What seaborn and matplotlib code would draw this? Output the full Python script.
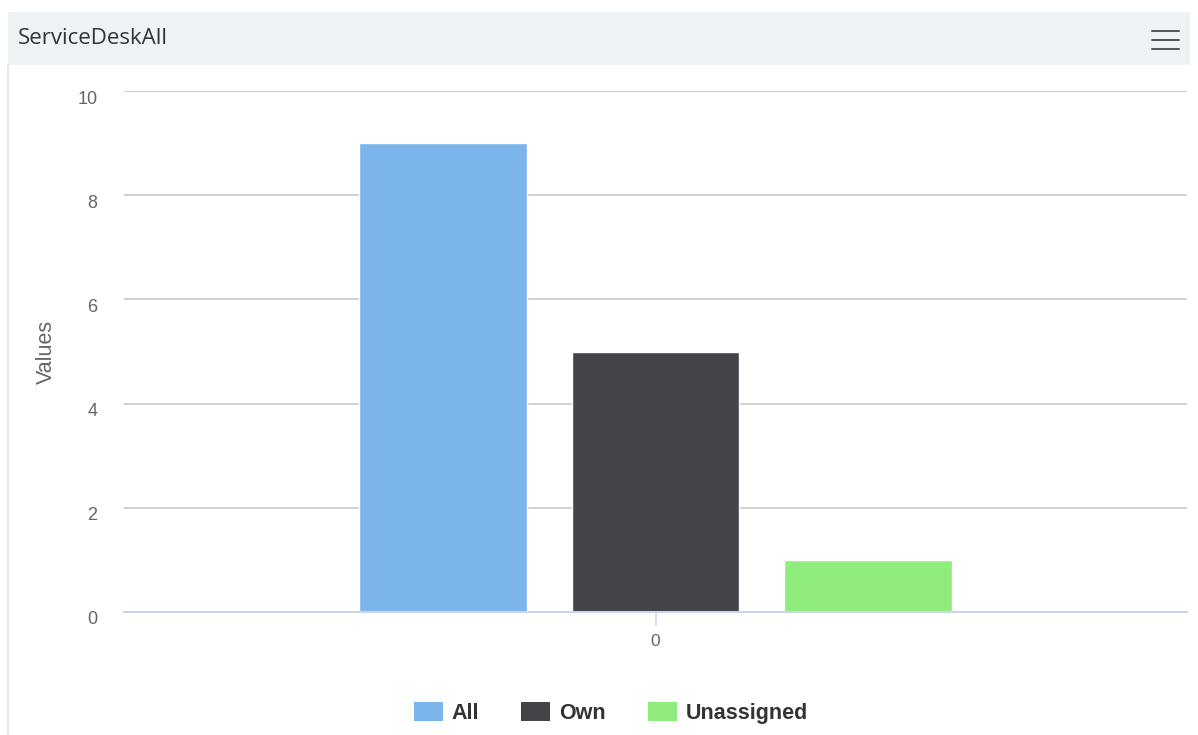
import matplotlib
matplotlib.use("Agg")
import matplotlib.pyplot as plt
from matplotlib.patches import Rectangle, Patch
from matplotlib.lines import Line2D
from matplotlib.transforms import ScaledTranslation
import seaborn as sns
import pandas as pd

# Data
categories = ["0", "0", "0"]
series = ["All", "Own", "Unassigned"]
values = [9, 5, 1]
colors = ["#7cb5ec", "#434348", "#90ed7d"]
y_ticks = [0, 2, 4, 6, 8, 10]
title = "ServiceDeskAll"
y_label = "Values"

df = pd.DataFrame({"category": categories, "series": series, "value": values})

sns.set_theme(style="white")
plt.rcParams["font.family"] = ["Liberation Sans", "DejaVu Sans"]

fig = plt.figure(figsize=(11.98, 7.35), dpi=100)
fig.patch.set_facecolor("white")

# header band with title and menu icon
fig.patches.append(Rectangle((8 / 1198, 1 - 65 / 735), 1182 / 1198, 53 / 735,
                             transform=fig.transFigure, facecolor="#eef3f8",
                             edgecolor="none", zorder=0))
fig.lines.append(Line2D([8 / 1198, 8 / 1198], [0, 1 - 65 / 735],
                        transform=fig.transFigure, color="#e8e8e8", lw=1.5))
fig.text(18 / 1198, 1 - 39 / 735, title, fontsize=16, color="#333333",
         family=["Open Sans", "DejaVu Sans"], va="center", ha="left")
for yy in (31, 40, 49):
    fig.lines.append(Line2D([1152 / 1198, 1179 / 1198], [1 - yy / 735] * 2,
                            transform=fig.transFigure, color="#555555", lw=1.4))

ax = fig.add_axes([124 / 1198, 1 - 612 / 735, 1063 / 1198, 521 / 735])
sns.barplot(data=df, x="category", y="value", hue="series",
            palette=colors, saturation=1, width=0.6, gap=0.21, ax=ax,
            edgecolor="white", linewidth=1, legend=False, zorder=3)

ax.set_xlim(-0.5, 0.5)
ax.set_ylim(0, 10)
ax.set_yticks(y_ticks)
ax.set_yticklabels([str(t) for t in y_ticks], fontsize=13, color="#666666")
ax.tick_params(axis="y", left=False, length=0, pad=19)
ax.tick_params(axis="x", bottom=True, length=10, width=1.2, color="#ccd6eb",
               labelsize=12.5, labelcolor="#666666", pad=6)
# tick labels sit a little below their grid lines
shift = ScaledTranslation(0, -6 / 100, fig.dpi_scale_trans)
for lab in ax.get_yticklabels():
    lab.set_transform(lab.get_transform() + shift)
ax.set_xlabel("")
ax.set_ylabel(y_label, fontsize=15.5, color="#666666", labelpad=15)
ax.yaxis.grid(True, color="#c8c8c8", lw=1.2, zorder=0)
ax.set_axisbelow(True)
for side in ("top", "right", "left"):
    ax.spines[side].set_visible(False)
ax.spines["bottom"].set_color("#ccd6eb")
ax.spines["bottom"].set_linewidth(1.5)
ax.spines["bottom"].set_zorder(4)

handles = [Patch(facecolor=c, edgecolor="none") for c in colors]
leg = fig.legend(handles, series, loc="center", bbox_to_anchor=(611 / 1198, 1 - 713 / 735),
                 ncol=3, frameon=False, handlelength=1.35, handleheight=1.0,
                 handletextpad=0.42, columnspacing=1.95,
                 prop={"weight": "bold", "size": 15.5})
for t in leg.get_texts():
    t.set_color("#333333")

fig.savefig("out.png", dpi=100)
